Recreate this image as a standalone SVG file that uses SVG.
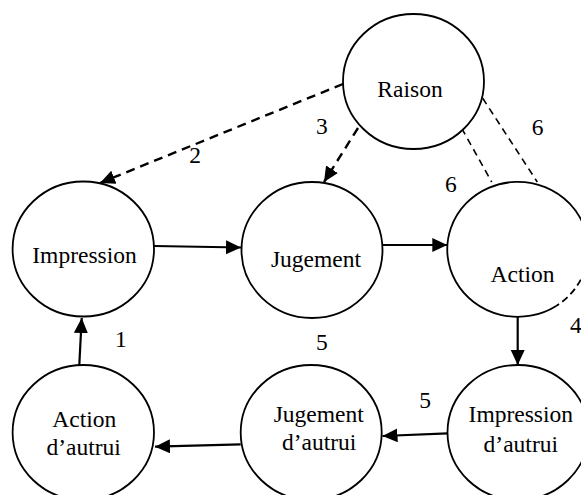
<svg xmlns="http://www.w3.org/2000/svg" width="581" height="495" viewBox="0 0 581 495">
<style>
.node{fill:#fff;stroke:#000;stroke-width:1.8}
.lbl{font-family:"Liberation Serif","Times New Roman",serif;font-size:23.5px;fill:#000;text-anchor:middle}
.num{font-family:"Liberation Serif","Times New Roman",serif;font-size:23.5px;fill:#000}
.solid{fill:none;stroke:#000;stroke-width:2.2}
.dash{fill:none;stroke:#000;stroke-width:2.4;stroke-dasharray:9 6}
.thin{fill:none;stroke:#000;stroke-width:1.6;stroke-dasharray:7 5}
</style>
<defs>
<marker id="ah" markerUnits="userSpaceOnUse" markerWidth="16" markerHeight="15" refX="15" refY="7" orient="auto">
<path d="M0,0 L15,7 L0,14 z" fill="#000"/>
</marker>
</defs>
<rect width="581" height="495" fill="#fff"/>
<g id="connectors">
<line class="dash" x1="343" y1="84" x2="100" y2="183" marker-end="url(#ah)"/>
<line class="dash" x1="358" y1="128" x2="324" y2="182" marker-end="url(#ah)"/>
<line class="thin" x1="461.7" y1="128.3" x2="491.7" y2="182"/>
<line class="thin" x1="482.7" y1="98.3" x2="537.3" y2="182"/>
<line class="solid" x1="154" y1="246" x2="241" y2="247.5" marker-end="url(#ah)"/>
<line class="solid" x1="382.7" y1="245" x2="447.3" y2="245" marker-end="url(#ah)"/>
<line class="solid" x1="517.7" y1="316.7" x2="517.7" y2="365" marker-end="url(#ah)"/>
<line class="solid" x1="447.7" y1="433.3" x2="382.5" y2="436" marker-end="url(#ah)"/>
<line class="solid" x1="240.7" y1="444.3" x2="155" y2="446.7" marker-end="url(#ah)"/>
<line class="solid" x1="79.3" y1="365" x2="81.7" y2="318" marker-end="url(#ah)"/>
</g>
<g id="n-raison">
<ellipse class="node" cx="413.5" cy="81.5" rx="70.5" ry="67.5"/>
<text class="lbl" x="410" y="96.5">Raison</text>
</g>
<g id="n-impression">
<ellipse class="node" cx="83.3" cy="249" rx="70.7" ry="67.5"/>
<text class="lbl" x="84.5" y="263.3">Impression</text>
</g>
<g id="n-jugement">
<ellipse class="node" cx="312" cy="250" rx="70.5" ry="68"/>
<text class="lbl" x="316" y="266.7">Jugement</text>
</g>
<g id="n-action">
<path d="M556.2,305.9 A70.5,67.5 0 1 1 584,226.2" fill="#fff" stroke="#000" stroke-width="1.8"/>
<path d="M584,226.2 A70.5,67.5 0 0 1 556.2,305.9" fill="none" stroke="#000" stroke-width="1.8" stroke-dasharray="7 4"/>
<text class="lbl" x="522.5" y="281.7">Action</text>
</g>
<g id="n-action-autrui">
<ellipse class="node" cx="83.3" cy="432.5" rx="70.7" ry="67.5"/>
<text class="lbl" x="84.3" y="426.7">Action</text>
<text class="lbl" x="83.7" y="455">d’autrui</text>
</g>
<g id="n-jugement-autrui">
<ellipse class="node" cx="311.2" cy="432.5" rx="70.5" ry="67.5"/>
<text class="lbl" x="318.7" y="421.7">Jugement</text>
<text class="lbl" x="319.2" y="450">d’autrui</text>
</g>
<g id="n-impression-autrui">
<ellipse class="node" cx="518" cy="432.5" rx="70.5" ry="67.5"/>
<text class="lbl" x="520.8" y="422">Impression</text>
<text class="lbl" x="520.8" y="452">d’autrui</text>
</g>
<g id="labels">
<text class="num" x="189.3" y="163.3">2</text>
<text class="num" x="316" y="134.3">3</text>
<text class="num" x="531.7" y="135">6</text>
<text class="num" x="445" y="191.7">6</text>
<text class="num" x="570" y="333">4</text>
<text class="num" x="115" y="346.7">1</text>
<text class="num" x="316" y="350">5</text>
<text class="num" x="419.3" y="408.3">5</text>
</g>
</svg>
